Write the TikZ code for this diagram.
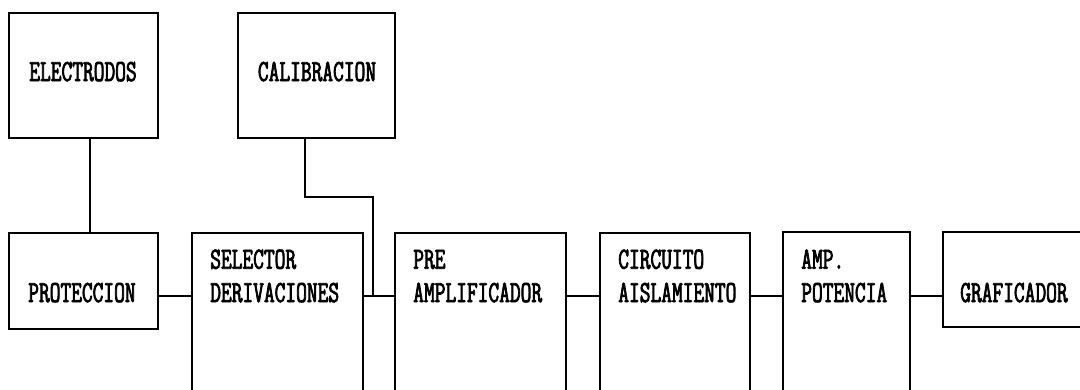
\documentclass[tikz,border=0pt]{standalone}
\usepackage{fontspec}
\newfontfamily\plotfont[FakeStretch=0.68,FakeBold=2.5]{Latin Modern Mono}
\usetikzlibrary{positioning}
\tikzset{
  blk/.style={draw, line width=1.4pt, anchor=north west, inner sep=0pt},
  lbl/.style={font=\plotfont\fontsize{23pt}{25pt}\selectfont, anchor=base west, align=left, inner sep=0pt},
  wire/.style={line width=1.4pt}
}
\begin{document}
\begin{tikzpicture}[x=0.75pt, y=-0.75pt]
  \path[use as bounding box, clip] (0,0) rectangle (1080,389);
  % top row
  \node[blk, minimum width=111.75pt, minimum height=93.75pt] (elec) at (8,12) {};
  \node[blk, minimum width=117.75pt, minimum height=93.75pt] (cal) at (237,12) {};
  \node[lbl, anchor=base] (elecT) at (83,81) {ELECTRODOS};
  \node[lbl, anchor=base] (calT) at (317,81) {CALIBRACION};
  % main chain
  \node[blk, minimum width=111.75pt, minimum height=72pt] (prot) at (8,232) {};
  \node[blk, minimum width=128.25pt, minimum height=150pt] (sel) at (191,232) {};
  \node[blk, minimum width=128.25pt, minimum height=150pt] (pre) at (394,232) {};
  \node[blk, minimum width=112.5pt, minimum height=150pt] (circ) at (599,232) {};
  \node[blk, minimum width=95.25pt, minimum height=150pt] (amp) at (782,231) {};
  \node[blk, minimum width=120pt, minimum height=71.25pt] (graf) at (942,231) {};
  \node[lbl] (protT) at (28,302) {PROTECCION};
  \node[lbl] (selT) at (210,302) {SELECTOR\\DERIVACIONES};
  \node[lbl] (preT) at (413,302) {PRE\\AMPLIFICADOR};
  \node[lbl] (circT) at (618,302) {CIRCUITO\\AISLAMIENTO};
  \node[lbl] (ampT) at (801,302) {AMP.\\POTENCIA};
  \node[lbl] (grafT) at (960,302) {GRAFICADOR};
  % connectors
  \coordinate (bus) at (0,296);
  \coordinate (tap) at (373,197);
  \foreach \a/\b in {prot/sel,sel/pre,pre/circ,circ/amp,amp/graf}
    \draw[wire] (\a.east |- bus) -- (\b.west |- bus);
  \draw[wire] ([xshift=5pt]elec.south) -- ([xshift=5pt]prot.north);
  \draw[wire] ([xshift=-8.5pt]cal.south) |- (tap) -- (tap |- bus);
\end{tikzpicture}
\end{document}
